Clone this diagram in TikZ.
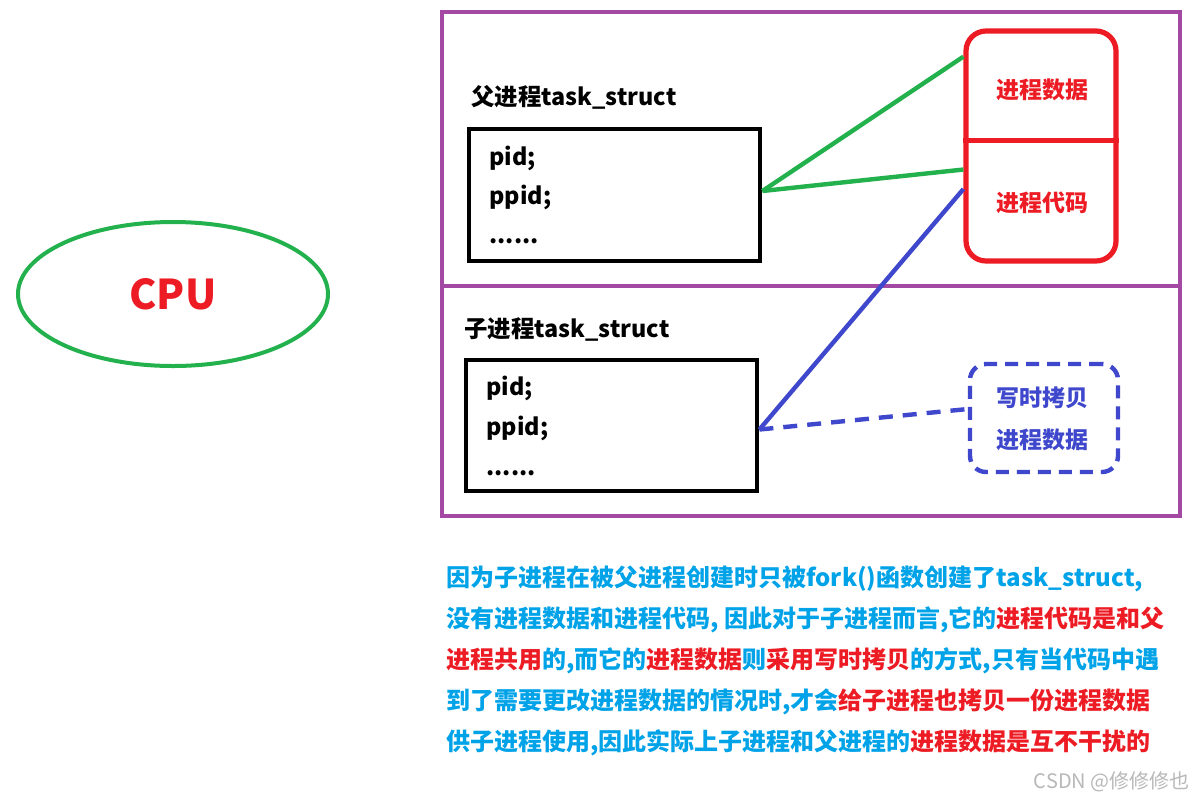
\documentclass[tikz,border=0pt]{standalone}
\usepackage{fontspec}
\setmainfont{Noto Sans CJK SC}
\usetikzlibrary{shapes.geometric,calc}
\definecolor{cgreen}{HTML}{22B14C}
\definecolor{cred}{HTML}{ED1C24}
\definecolor{cblue}{HTML}{3F48CC}
\definecolor{cpurple}{HTML}{A349A4}
\definecolor{ccyan}{HTML}{00A2E8}
\begin{document}
\begin{tikzpicture}[x=0.5pt,y=-0.5pt,
  frame/.style={draw=cpurple, line width=2.1pt, minimum width=369pt, inner sep=0pt},
  tbox/.style={draw=black, line width=2.4pt, minimum width=145.5pt, inner sep=0pt},
  lbl/.style={anchor=base west, inner sep=0pt, font=\bfseries\fontsize{11.7}{14}\selectfont},
  para/.style={anchor=west, inner sep=0pt, font=\bfseries\fontsize{12}{14}\selectfont, text=ccyan},
  memtext/.style={inner sep=0pt, font=\bfseries\fontsize{11.5}{14}\selectfont},
  gline/.style={draw=cgreen, line width=2.2pt},
  bline/.style={draw=cblue, line width=2.2pt}]
\useasboundingbox (0,0) rectangle (1197,804);
\fill[white] (0,0) rectangle (1197,804);

% CPU
\node[ellipse, draw=cgreen, line width=2pt, minimum width=155pt, minimum height=72pt,
  inner sep=0pt, text=cred, font=\bfseries\fontsize{20.5}{24}\selectfont] (cpu) at (173,294) {CPU};

% purple frames
\node[frame, minimum height=137pt] (ftop) at (811,149) {};
\node[frame, minimum height=115pt] (fbot) at (811,401) {};

% parent
\node[lbl] (ptitle) at (471,105) {父进程task\_struct};
\node[tbox, minimum height=66pt] (pbox) at (614.5,195) {};
\node[lbl] (ppid1) at (489,165) {pid;};
\node[lbl] (ppid2) at (489,204) {ppid;};
\node[lbl] (ppid3) at (489,243) {......};

% child
\node[lbl] (ctitle) at (464,337) {子进程task\_struct};
\node[tbox, minimum height=65.5pt] (cbox) at (611.5,425.5) {};
\node[lbl] (cpid1) at (486,395) {pid;};
\node[lbl] (cpid2) at (486,435) {ppid;};
\node[lbl] (cpid3) at (486,475) {......};

% memory box
\node[draw=cred, line width=2.6pt, rounded corners=10pt, minimum width=75pt,
  minimum height=115pt, inner sep=0pt] (mem) at (1041,146) {};
\draw[cred, line width=2.6pt] ($(mem.north west)!0.478!(mem.south west)$) -- ($(mem.north east)!0.478!(mem.south east)$);
\node[memtext, text=cred] (mdata) at (1042,90) {进程数据};
\node[memtext, text=cred] (mcode) at (1042,203) {进程代码};

% copy-on-write box
\node[draw=cblue, line width=2.2pt, dash pattern=on 6.5pt off 4pt, rounded corners=8pt,
  minimum width=74pt, minimum height=54pt, inner sep=0pt] (cow) at (1044,418) {};
\node[memtext, text=cblue] (cow1) at (1042,398) {写时拷贝};
\node[memtext, text=cblue] (cow2) at (1042,440) {进程数据};

% connectors
\coordinate (g1) at ($(mem.north west)!0.12!(mem.south west)$);
\coordinate (g2) at ($(mem.north west)!0.60!(mem.south west)$);
\coordinate (b1) at ($(mem.north west)!0.683!(mem.south west)$);
\coordinate (d1) at ($(cow.north west)!0.42!(cow.south west)$);
\coordinate (pstart) at ($(pbox.east)+(0,-4)$);
\coordinate (cstart) at ($(cbox.east)+(0,4)$);
\draw[gline] (pstart) -- (g1);
\draw[gline] (pstart) -- (g2);
\draw[bline] (cstart) -- (b1);
\draw[bline, dash pattern=on 7pt off 5pt] (cstart) -- (d1);

% paragraph
\node[para] (l1) at (446,579) {因为子进程在被父进程创建时只被fork()函数创建了task\_struct,};
\node[para] (l2) at (446,620) {没有进程数据和进程代码, 因此对于子进程而言,它的\textcolor{cred}{进程代码是和父}};
\node[para] (l3) at (446,661) {\textcolor{cred}{进程共用}的,而它的\textcolor{cred}{进程数据}则\textcolor{cred}{采用写时拷贝}的方式,只有当代码中遇};
\node[para] (l4) at (446,702) {到了需要更改进程数据的情况时,才会\textcolor{cred}{给子进程也拷贝一份进程数据}};
\node[para] (l5) at (446,743) {供子进程使用,因此实际上子进程和父进程的\textcolor{cred}{进程数据是互不干扰的}};

% watermark
\node[anchor=east, inner sep=0pt, text=black!28, font=\fontsize{10}{12}\selectfont] (wm) at (1190,782) {CSDN @修修修也};
\end{tikzpicture}
\end{document}
